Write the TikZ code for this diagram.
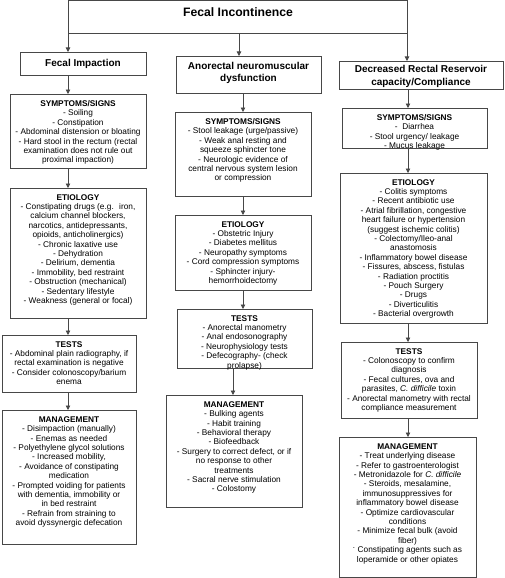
\documentclass[tikz,border=0pt]{standalone}
\usepackage{fontspec}
\setmainfont{Liberation Sans}
\usetikzlibrary{arrows.meta}
\begin{document}
\begin{tikzpicture}[x=1pt,y=1pt,
  boxst/.style={draw=black!72, line width=0.8pt, fill=white, inner sep=0pt, outer sep=0pt},
  txt/.style={align=center, inner sep=0pt, font=\fontsize{8.3}{9.4}\selectfont},
  ttl/.style={align=center, inner sep=0pt, font=\fontsize{10}{12.5}\selectfont\bfseries},
  arr/.style={draw=black!72, line width=0.8pt, -{Triangle[length=4.5pt,width=4.5pt]}}]
\useasboundingbox (0,0) rectangle (504,-578);
\fill[white] (0,0) rectangle (504,-578);
\newcommand\mkbox[5]{%
  \node[boxst, anchor=north west, minimum width=#4-#2, minimum height=#5-#3] (#1) at (#2,-#3) {};}
\newcommand\mktxt[2]{%
  \node[txt, anchor=north] (#1-t) at ([yshift=-6.2pt]#1.north) {#2};}
% top
\mkbox{top}{68}{0.5}{407}{33}
\node[inner sep=0pt, font=\fontsize{12.2}{14}\selectfont\bfseries] (top-t) at (238,-12) {Fecal Incontinence};
% level 1
\mkbox{fi}{20}{52}{146}{75}
\node[ttl] (fi-t) at (fi.center) {Fecal Impaction};
\mkbox{and}{176}{56}{321}{93}
\node[ttl] (and-t) at ([yshift=1.5pt]and.center) {Anorectal neuromuscular\\dysfunction};
\mkbox{drr}{339}{61}{503}{89}
\node[ttl] (drr-t) at ([yshift=-1.5pt]drr.center) {Decreased Rectal Reservoir\\capacity/Compliance};
% left column
\mkbox{s1}{10}{94}{146}{168}
\mktxt{s1}{\textbf{SYMPTOMS/SIGNS}\\- Soiling\\- Constipation\\- Abdominal distension or bloating\\- Hard stool in the rectum (rectal\\examination does not rule out\\proximal impaction)}
\mkbox{e1}{10}{188}{146}{318}
\mktxt{e1}{\textbf{ETIOLOGY}\\- Constipating drugs (e.g. \ iron,\\calcium channel blockers,\\narcotics, antidepressants,\\opioids, anticholinergics)\\- Chronic laxative use\\- Dehydration\\- Delirium, dementia\\- Immobility, bed restraint\\- Obstruction (mechanical)\\- Sedentary lifestyle\\- Weakness (general or focal)}
\mkbox{t1}{2}{335}{136}{392}
\mktxt{t1}{\textbf{TESTS}\\- Abdominal plain radiography, if\\rectal examination is negative\\- Consider colonoscopy/barium\\enema}
\mkbox{m1}{2}{410}{136}{544}
\mktxt{m1}{\textbf{MANAGEMENT}\\- Disimpaction (manually)\\- Enemas as needed\\- Polyethylene glycol solutions\\- Increased mobility,\\- Avoidance of constipating\\medication\\- Prompted voiding for patients\\with dementia, immobility or\\in bed restraint\\- Refrain from straining to\\avoid dyssynergic defecation}
% middle column
\mkbox{s2}{175}{112}{311}{196}
\mktxt{s2}{\textbf{SYMPTOMS/SIGNS}\\- Stool leakage (urge/passive)\\- Weak anal resting and\\squeeze sphincter tone\\- Neurologic evidence of\\central nervous system lesion\\or compression}
\mkbox{e2}{175}{215}{311}{290}
\mktxt{e2}{\textbf{ETIOLOGY}\\- Obstetric Injury\\- Diabetes mellitus\\- Neuropathy symptoms\\- Cord compression symptoms\\- Sphincter injury-\\hemorrhoidectomy}
\mkbox{t2}{177}{309}{312}{368}
\mktxt{t2}{\textbf{TESTS}\\- Anorectal manometry\\- Anal endosonography\\- Neurophysiology tests\\- Defecography- (check\\prolapse)}
\mkbox{m2}{166}{395}{302}{507}
\mktxt{m2}{\textbf{MANAGEMENT}\\- Bulking agents\\- Habit training\\- Behavioral therapy\\- Biofeedback\\- Surgery to correct defect, or if\\no response to other\\treatments\\- Sacral nerve stimulation\\- Colostomy}
% right column
\mkbox{s3}{342}{108}{487}{148}
\mktxt{s3}{\textbf{SYMPTOMS/SIGNS}\\- \ Diarrhea\\- Stool urgency/ leakage\\- Mucus leakage}
\mkbox{e3}{340}{173}{487}{323}
\mktxt{e3}{\textbf{ETIOLOGY}\\- Colitis symptoms\\- Recent antibiotic use\\- Atrial fibrillation, congestive\\heart failure or hypertension\\(suggest ischemic colitis)\\- Colectomy/Ileo-anal\\anastomosis\\- Inflammatory bowel disease\\- Fissures, abscess, fistulas\\- Radiation proctitis\\- Pouch Surgery\\- Drugs\\- Diverticulitis\\- Bacterial overgrowth}
\mkbox{t3}{341}{342}{477}{418}
\mktxt{t3}{\textbf{TESTS}\\- Colonoscopy to confirm\\diagnosis\\- Fecal cultures, ova and\\parasites, \textit{C. difficile} toxin\\- Anorectal manometry with rectal\\compliance measurement}
\mkbox{m3}{339}{437}{476}{577}
\mktxt{m3}{\textbf{MANAGEMENT}\\- Treat underlying disease\\- Refer to gastroenterologist\\- Metronidazole for \textit{C. difficile}\\- Steroids, mesalamine,\\immunosuppressives for\\inflammatory bowel disease\\- Optimize cardiovascular\\conditions\\- Minimize fecal bulk (avoid\\fiber)\\\textsuperscript{-} Constipating agents such as\\loperamide or other opiates}
% column lines
\coordinate (cL) at (68,0);
\coordinate (cM) at (239,0);
\coordinate (cM2) at (243,0);
\coordinate (cM3) at (233,0);
\coordinate (cR) at (407,0);
\coordinate (cR2) at (408,0);
% arrows
\draw[arr] (top.south -| cL) -- (fi.north -| cL);
\draw[arr] (top.south -| cM) -- (and.north -| cM);
\draw[arr] (top.south -| cR) -- (drr.north -| cR);
\draw[arr] (fi.south -| cL) -- (s1.north -| cL);
\draw[arr] (s1.south -| cL) -- (e1.north -| cL);
\draw[arr] (e1.south -| cL) -- (t1.north -| cL);
\draw[arr] (t1.south -| cL) -- (m1.north -| cL);
\draw[arr] (and.south -| cM2) -- (s2.north -| cM2);
\draw[arr] (s2.south -| cM2) -- (e2.north -| cM2);
\draw[arr] (e2.south -| cM2) -- (t2.north -| cM2);
\draw[arr] (t2.south -| cM3) -- (m2.north -| cM3);
\draw[arr] (drr.south -| cR2) -- (s3.north -| cR2);
\draw[arr] (s3.south -| cR2) -- (e3.north -| cR2);
\draw[arr] (e3.south -| cR2) -- (t3.north -| cR2);
\draw[arr] (t3.south -| cR2) -- (m3.north -| cR2);
\end{tikzpicture}
\end{document}
